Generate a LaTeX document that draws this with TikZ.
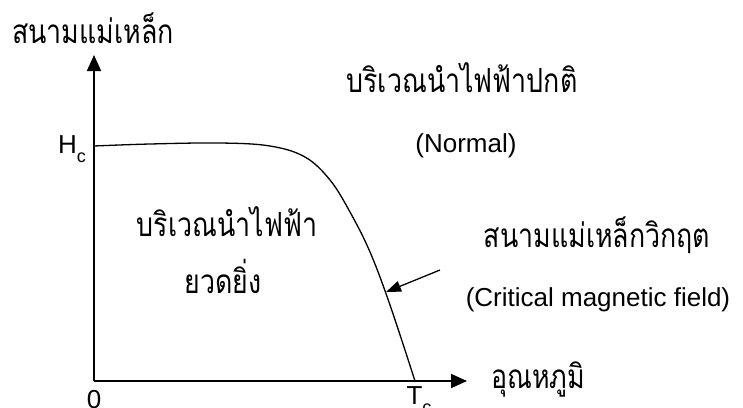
\documentclass[tikz,border=0pt]{standalone}
\usepackage{fontspec}
\usepackage{graphicx}
\setmainfont{Liberation Sans}
\newfontfamily\thai[Script=Thai]{Loma}
\usetikzlibrary{arrows.meta}
\newcommand{\thtxt}[1]{\scalebox{1.03}[1.28]{\thai #1}}
\tikzset{
  axis/.style={line width=1.8pt,-{Triangle[length=16pt,width=14pt]}},
  lbl/.style={inner sep=0pt,font=\fontsize{26}{30}\selectfont},
  thlbl/.style={inner sep=0pt,anchor=base,font=\fontsize{26}{30}\selectfont},
}
\begin{document}
\begin{tikzpicture}[x=1pt,y=-1pt]
\useasboundingbox (0,0) rectangle (743,407);
\coordinate (O) at (94,381);
\coordinate (ytip) at (94,55);
\coordinate (xtip) at (467,381);
\draw[axis] (O) -- (ytip);
\draw[axis] (O) -- (xtip);
\draw[line width=1.3pt] plot[smooth,tension=0.6] coordinates {(94,146) (150,144) (220,143) (270,146) (305,157) (330,180) (350,212) (370,252) (390,305) (415,381)};
\coordinate (arrstart) at (440,270);
\coordinate (arrtip) at (386,292);
\draw[line width=1.3pt,-{Triangle[length=15pt,width=11pt]}] (arrstart) -- (arrtip);
\node[thlbl] (ylab) at (93,43) {\thtxt{สนามแม่เหล็ก}};
\node[thlbl] (xlab) at (538,388) {\thtxt{อุณหภูมิ}};
\node[lbl,anchor=east] (hcl) at (86,149) {H\raisebox{-9pt}{\fontsize{18}{20}\selectfont c}};
\node[lbl] (zero) at (94,400) {0};
\node[lbl] (tcl) at (419,400) {T\raisebox{-9pt}{\fontsize{18}{20}\selectfont c}};
\node[thlbl] (normth) at (462,92) {\thtxt{บริเวณนำไฟฟ้าปกติ}};
\node[lbl,anchor=base] (norm) at (466,152) {(Normal)};
\node[thlbl] (sup1) at (227,236) {\thtxt{บริเวณนำไฟฟ้า}};
\node[thlbl] (sup2) at (223,293) {\thtxt{ยวดยิ่ง}};
\node[thlbl] (critth) at (597,247) {\thtxt{สนามแม่เหล็กวิกฤต}};
\node[lbl,anchor=base] (crit) at (598,306) {(Critical magnetic field)};
\end{tikzpicture}
\end{document}
